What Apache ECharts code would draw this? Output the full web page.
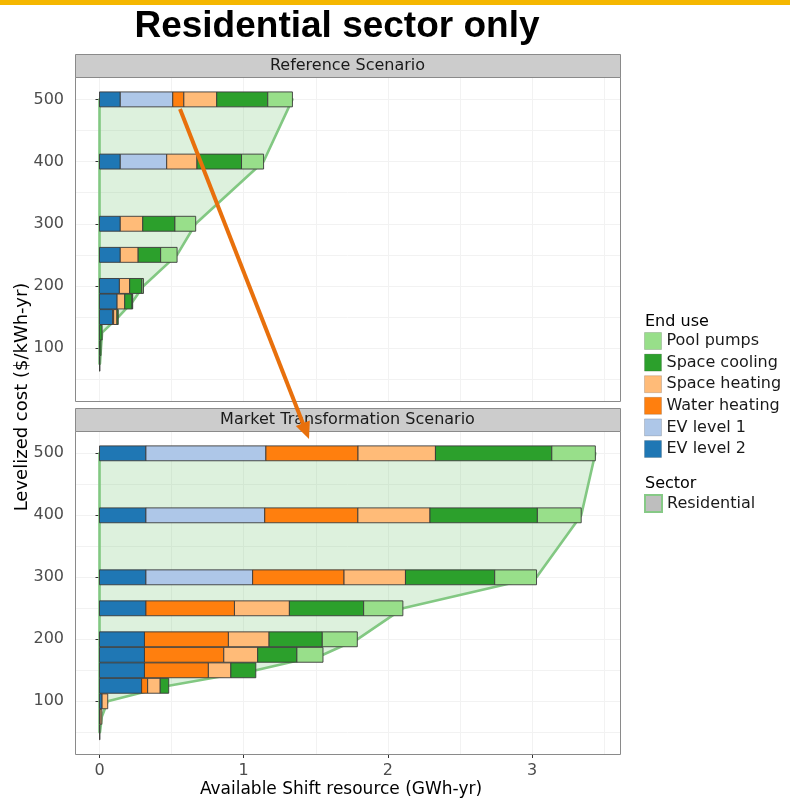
<!DOCTYPE html>
<html>
<head>
<meta charset="utf-8">
<script src="https://cdn.jsdelivr.net/npm/echarts@6/dist/echarts.min.js"></script>
<style>
html,body{margin:0;padding:0;background:#ffffff;}
#chart{width:790px;height:799px;}
</style>
</head>
<body>
<div id="chart"></div>
<script>
// ---------- data ----------
const costLevels = [500, 400, 300, 250, 200, 175, 150, 125, 100, 75, 50];
const endUses = ['EV level 2', 'EV level 1', 'Water heating', 'Space heating', 'Space cooling', 'Pool pumps'];
const legendOrder = ['Pool pumps', 'Space cooling', 'Space heating', 'Water heating', 'EV level 1', 'EV level 2'];
const panelTitles = ['Reference Scenario', 'Market Transformation Scenario'];
const xTickValues = [0, 1, 2, 3];
const yTickValues = [100, 200, 300, 400, 500];

// Reference scenario (GWh-yr) by cost level
const refEVLevel2     = [0.144, 0.144, 0.144, 0.144, 0.138, 0.122, 0.092, 0,     0,     0,     0];
const refEVLevel1     = [0.364, 0.322, 0,     0,     0,     0,     0,     0,     0,     0,     0];
const refWaterHeating = [0.077, 0,     0,     0,     0,     0,     0.006, 0,     0,     0,     0];
const refSpaceHeating = [0.228, 0.210, 0.156, 0.124, 0.071, 0.053, 0.023, 0,     0,     0,     0];
const refSpaceCooling = [0.354, 0.309, 0.223, 0.156, 0.085, 0.051, 0.009, 0.018, 0.010, 0.003, 0];
const refPoolPumps    = [0.171, 0.153, 0.144, 0.114, 0.011, 0.004, 0,     0,     0,     0,     0];

// Market transformation scenario (GWh-yr) by cost level
const mtEVLevel2      = [0.322, 0.322, 0.322, 0.322, 0.312, 0.312, 0.312, 0.292, 0.018, 0,     0];
const mtEVLevel1      = [0.832, 0.824, 0.740, 0,     0,     0,     0,     0,     0,     0,     0];
const mtWaterHeating  = [0.639, 0.646, 0.634, 0.614, 0.582, 0.550, 0.443, 0.042, 0,     0.004, 0];
const mtSpaceHeating  = [0.537, 0.500, 0.426, 0.381, 0.282, 0.235, 0.156, 0.087, 0.039, 0.012, 0.003];
const mtSpaceCooling  = [0.807, 0.745, 0.619, 0.515, 0.369, 0.272, 0.173, 0.059, 0,     0,     0];
const mtPoolPumps     = [0.302, 0.304, 0.290, 0.272, 0.243, 0.181, 0,     0,     0,     0,     0];

// ---------- styles ----------
const colorMap = {
  'EV level 2': '#1f77b4',
  'EV level 1': '#aec7e8',
  'Water heating': '#ff7f0e',
  'Space heating': '#ffbb78',
  'Space cooling': '#2ca02c',
  'Pool pumps': '#98df8a'
};
const FONT = "'DejaVu Sans', sans-serif";
const HALF_BAR = 12;          // half bar thickness in cost units
const X_MIN = -0.17, X_MAX = 3.61;
const Y_MIN = 15, Y_MAX = 536;
const grids = [
  {left: 75, top: 77, width: 545, height: 324},
  {left: 75, top: 431, width: 545, height: 323}
];

const panels = [
  [refEVLevel2, refEVLevel1, refWaterHeating, refSpaceHeating, refSpaceCooling, refPoolPumps],
  [mtEVLevel2, mtEVLevel1, mtWaterHeating, mtSpaceHeating, mtSpaceCooling, mtPoolPumps]
];

function barRender(params, api) {
  const x0 = api.value(0), x1 = api.value(1), y = api.value(2);
  if (!(x1 - x0 > 0)) return null;
  const p0 = api.coord([x0, y + HALF_BAR]);
  const p1 = api.coord([x1, y - HALF_BAR]);
  return {
    type: 'rect',
    shape: {x: p0[0], y: p0[1], width: p1[0] - p0[0], height: p1[1] - p0[1]},
    style: {fill: api.visual('color'), stroke: '#3a3a3a', lineWidth: 0.9}
  };
}

function areaRenderFactory(points) {
  return function (params, api) {
    if (params.dataIndex !== 0) return null;
    const pts = points.map(p => api.coord(p));
    return {
      type: 'polygon',
      shape: {points: pts},
      style: {fill: 'rgba(120,200,120,0.25)', stroke: '#82c882', lineWidth: 2.6, lineJoin: 'round'}
    };
  };
}

const series = [];
const xAxes = [], yAxes = [];

panels.forEach((panel, pi) => {
  const totals = costLevels.map(() => 0);
  const segData = endUses.map(() => []);
  costLevels.forEach((c, ci) => {
    let acc = 0;
    endUses.forEach((eu, ei) => {
      const v = panel[ei][ci];
      segData[ei].push([acc, acc + v, c]);
      acc += v;
    });
    totals[ci] = acc;
  });
  const used = costLevels.map((c, i) => [totals[i], c]).filter(p => p[0] > 0);
  const lowCost = used[used.length - 1][1];
  const poly = [[0, lowCost], [0, used[0][1]]].concat(used);
  const ax = pi * 2;
  series.push({
    name: 'Residential',
    type: 'custom',
    xAxisIndex: ax, yAxisIndex: ax,
    itemStyle: {color: '#bebebe'},
    renderItem: areaRenderFactory(poly),
    data: poly,
    encode: {x: 0, y: 1},
    z: 1,
    silent: true
  });
  endUses.forEach((eu, ei) => {
    series.push({
      name: eu,
      type: 'custom',
      xAxisIndex: ax, yAxisIndex: ax,
      itemStyle: {color: colorMap[eu]},
      renderItem: barRender,
      data: segData[ei],
      encode: {x: [0, 1], y: 2},
      z: 3,
      silent: true
    });
  });

  const isBottom = pi === 1;
  xAxes.push({
    gridIndex: pi, type: 'value', min: X_MIN, max: X_MAX,
    minInterval: 1, maxInterval: 1,
    axisLine: {show: false},
    axisTick: {show: isBottom, customValues: xTickValues, length: 4, lineStyle: {color: '#333333', width: 1}},
    axisLabel: {show: isBottom, customValues: xTickValues, margin: 9, fontSize: 16, color: '#4d4d4d', fontFamily: FONT},
    splitLine: {show: true, lineStyle: {color: '#e6e6e6', width: 1}}
  });
  xAxes.push({
    gridIndex: pi, type: 'value', min: X_MIN, max: X_MAX,
    minInterval: 0.5, maxInterval: 0.5,
    axisLine: {show: false}, axisTick: {show: false}, axisLabel: {show: false},
    splitLine: {show: true, lineStyle: {color: '#f2f2f2', width: 1}}
  });
  yAxes.push({
    gridIndex: pi, type: 'value', min: Y_MIN, max: Y_MAX,
    minInterval: 100, maxInterval: 100,
    axisLine: {show: false},
    axisTick: {show: true, customValues: yTickValues, length: 4, lineStyle: {color: '#333333', width: 1}},
    axisLabel: {show: true, customValues: yTickValues, margin: 11, fontSize: 16, color: '#4d4d4d', fontFamily: FONT},
    splitLine: {show: true, lineStyle: {color: '#e6e6e6', width: 1}}
  });
  yAxes.push({
    gridIndex: pi, type: 'value', min: Y_MIN, max: Y_MAX,
    minInterval: 50, maxInterval: 50,
    axisLine: {show: false}, axisTick: {show: false}, axisLabel: {show: false},
    splitLine: {show: true, lineStyle: {color: '#f2f2f2', width: 1}}
  });
});

// ---------- graphics ----------
const graphics = [
  {type: 'rect', shape: {x: 0, y: 0, width: 790, height: 5}, style: {fill: '#f5b700'}, z: 100},
  {type: 'text', x: 337, y: 27, style: {text: 'Residential sector only', font: "bold 37px 'Liberation Sans', Arial, sans-serif", fill: '#000000', align: 'center', verticalAlign: 'middle'}, z: 100},
  {type: 'text', x: 22, y: 397, rotation: Math.PI / 2, style: {text: 'Levelized cost ($/kWh-yr)', font: "18px 'DejaVu Sans', sans-serif", fill: '#000000', align: 'center', verticalAlign: 'middle'}, z: 100},
  {type: 'text', x: 341, y: 790, style: {text: 'Available Shift resource (GWh-yr)', font: "17px 'DejaVu Sans', sans-serif", fill: '#000000', align: 'center', verticalAlign: 'middle'}, z: 100},
  {type: 'text', x: 645, y: 322, style: {text: 'End use', font: "16px 'DejaVu Sans', sans-serif", fill: '#000000', align: 'left', verticalAlign: 'middle'}, z: 100},
  {type: 'text', x: 645, y: 484, style: {text: 'Sector', font: "16px 'DejaVu Sans', sans-serif", fill: '#000000', align: 'left', verticalAlign: 'middle'}, z: 100}
];
grids.forEach((g, i) => {
  graphics.push({type: 'rect', shape: {x: g.left + 0.5, y: g.top + 0.5, width: g.width, height: g.height}, style: {fill: 'none', stroke: '#8a8a8a', lineWidth: 1}, z: 90});
  graphics.push({type: 'rect', shape: {x: g.left + 0.5, y: g.top - 22.5, width: g.width, height: 23}, style: {fill: '#cccccc', stroke: '#8a8a8a', lineWidth: 1}, z: 90});
  graphics.push({type: 'text', x: g.left + g.width / 2, y: g.top - 11, style: {text: panelTitles[i], font: "16px 'DejaVu Sans', sans-serif", fill: '#1a1a1a', align: 'center', verticalAlign: 'middle'}, z: 91});
});
// annotation arrow
(function () {
  const sx = 180, sy = 109, tx = 309, ty = 439;
  const dx = tx - sx, dy = ty - sy, len = Math.sqrt(dx * dx + dy * dy);
  const ux = dx / len, uy = dy / len;
  const headLen = 17, headHalf = 7.5;
  const bx = tx - ux * headLen, by = ty - uy * headLen;
  const px = -uy * headHalf, py = ux * headHalf;
  graphics.push({type: 'line', shape: {x1: sx, y1: sy, x2: bx + ux * 2, y2: by + uy * 2}, style: {stroke: '#e8700c', lineWidth: 4}, z: 120});
  graphics.push({type: 'polygon', shape: {points: [[tx, ty], [bx + px, by + py], [bx - px, by - py]]}, style: {fill: '#e8700c'}, z: 120});
})();

const chart = echarts.init(document.getElementById('chart'), null, {renderer: 'canvas'});
chart.setOption({
  animation: false,
  backgroundColor: '#ffffff',
  textStyle: {fontFamily: FONT},
  grid: grids.map(g => Object.assign({show: false}, g)),
  xAxis: xAxes,
  yAxis: yAxes,
  legend: [
    {
      data: legendOrder.map(n => ({name: n, itemStyle: {color: colorMap[n], borderColor: 'rgba(0,0,0,0.15)', borderWidth: 1}})),
      orient: 'vertical', left: 644, top: 332, padding: 0,
      itemWidth: 17, itemHeight: 17, itemGap: 3.6, icon: 'rect',
      selectedMode: false,
      textStyle: {fontSize: 16, color: '#1a1a1a', fontFamily: FONT}
    },
    {
      data: [{name: 'Residential', itemStyle: {color: '#bebebe', borderColor: '#86c986', borderWidth: 2}}],
      orient: 'vertical', left: 644, top: 494, padding: 0,
      itemWidth: 17, itemHeight: 17, icon: 'rect',
      selectedMode: false,
      textStyle: {fontSize: 16, color: '#1a1a1a', fontFamily: FONT}
    }
  ],
  graphic: {elements: graphics},
  series: series
});
</script>
</body>
</html>
